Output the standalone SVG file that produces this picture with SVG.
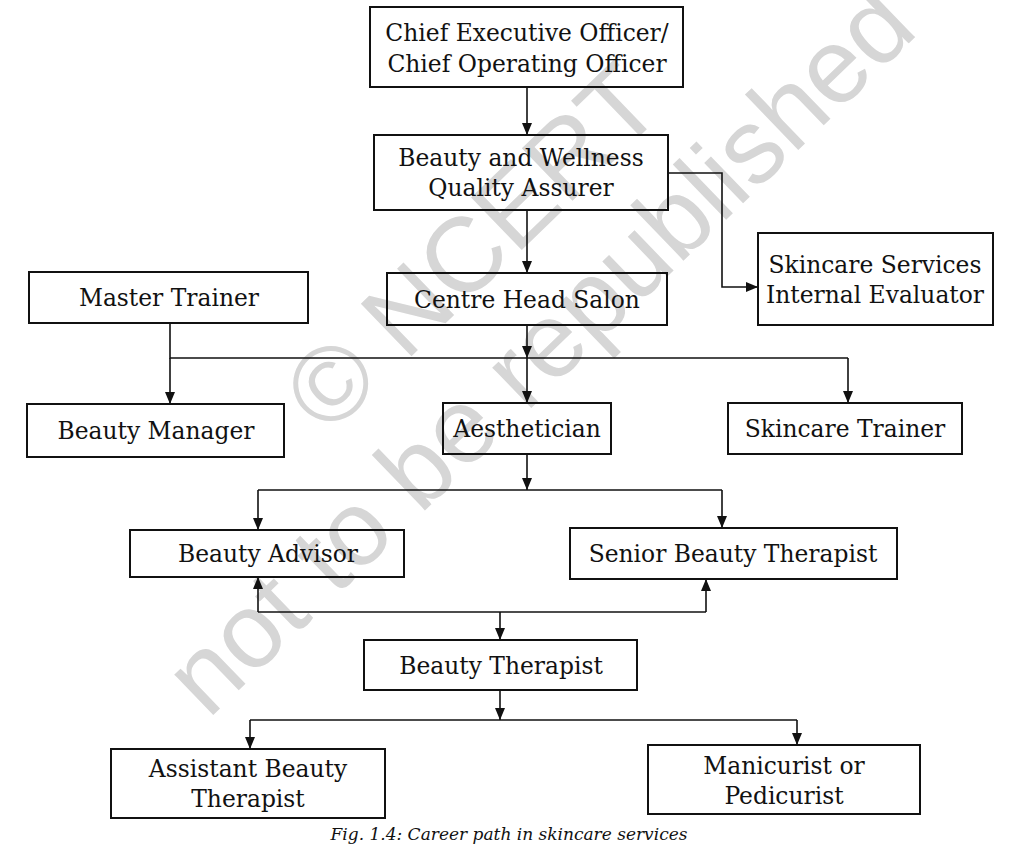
<svg xmlns="http://www.w3.org/2000/svg" width="1024" height="851" viewBox="0 0 1024 851">
<defs>
<style>
.box{fill:none;stroke:#111;stroke-width:2}
.lbl{font-family:"DejaVu Serif","Liberation Serif",serif;font-size:23.4px;fill:#111;text-anchor:middle}
.wire{fill:none;stroke:#111;stroke-width:1.6}
.wm{font-family:"Liberation Sans","DejaVu Sans",sans-serif;font-size:106px;fill:#d6d6d6}
.cap{font-family:"DejaVu Serif","Liberation Serif",serif;font-style:italic;font-size:17px;fill:#111;text-anchor:middle}
</style>
<marker id="ah" markerUnits="userSpaceOnUse" markerWidth="12" markerHeight="10" refX="12" refY="5" orient="auto">
<path d="M0,0 L12,5 L0,10 z" fill="#111"/>
</marker>
</defs>
<rect width="1024" height="851" fill="#fff"/>
<g id="watermark">
<text class="wm" transform="translate(328,437) rotate(-44)">© NCERT</text>
<text class="wm" transform="translate(208,720) rotate(-44)">not to be republished</text>
</g>
<g id="connectors">
<line class="wire" x1="527" y1="87" x2="527" y2="135" marker-end="url(#ah)"/>
<line class="wire" x1="527" y1="210" x2="527" y2="273" marker-end="url(#ah)"/>
<polyline class="wire" points="668,173 722,173 722,287 758,287" marker-end="url(#ah)"/>
<line class="wire" x1="527" y1="325" x2="527" y2="358" marker-end="url(#ah)"/>
<polyline class="wire" points="170,323 170,358 848,358"/>
<line class="wire" x1="170" y1="358" x2="170" y2="404" marker-end="url(#ah)"/>
<line class="wire" x1="527" y1="358" x2="527" y2="403" marker-end="url(#ah)"/>
<line class="wire" x1="848" y1="358" x2="848" y2="403" marker-end="url(#ah)"/>
<line class="wire" x1="527" y1="454" x2="527" y2="490" marker-end="url(#ah)"/>
<line class="wire" x1="258" y1="490" x2="722" y2="490"/>
<line class="wire" x1="258" y1="490" x2="258" y2="530" marker-end="url(#ah)"/>
<line class="wire" x1="722" y1="490" x2="722" y2="528" marker-end="url(#ah)"/>
<line class="wire" x1="258" y1="612" x2="706" y2="612"/>
<line class="wire" x1="258" y1="612" x2="258" y2="577" marker-end="url(#ah)"/>
<line class="wire" x1="706" y1="612" x2="706" y2="579" marker-end="url(#ah)"/>
<line class="wire" x1="500" y1="612" x2="500" y2="640" marker-end="url(#ah)"/>
<line class="wire" x1="500" y1="690" x2="500" y2="720" marker-end="url(#ah)"/>
<line class="wire" x1="250" y1="720" x2="797" y2="720"/>
<line class="wire" x1="250" y1="720" x2="250" y2="749" marker-end="url(#ah)"/>
<line class="wire" x1="797" y1="720" x2="797" y2="745" marker-end="url(#ah)"/>
</g>
<g id="ceo">
<rect class="box" x="370" y="7" width="313" height="80"/>
<text class="lbl" x="527" y="41">Chief Executive Officer/</text>
<text class="lbl" x="527" y="72">Chief Operating Officer</text>
</g>
<g id="bwqa">
<rect class="box" x="374" y="135" width="294" height="75"/>
<text class="lbl" x="521" y="166">Beauty and Wellness</text>
<text class="lbl" x="521" y="196">Quality Assurer</text>
</g>
<g id="ssie">
<rect class="box" x="758" y="233" width="235" height="92"/>
<text class="lbl" x="875" y="273">Skincare Services</text>
<text class="lbl" x="875" y="303">Internal Evaluator</text>
</g>
<g id="master">
<rect class="box" x="29" y="272" width="279" height="51"/>
<text class="lbl" x="169" y="306">Master Trainer</text>
</g>
<g id="centre">
<rect class="box" x="387" y="273" width="280" height="52"/>
<text class="lbl" x="527" y="308">Centre Head Salon</text>
</g>
<g id="manager">
<rect class="box" x="27" y="404" width="257" height="53"/>
<text class="lbl" x="156" y="439">Beauty Manager</text>
</g>
<g id="aesth">
<rect class="box" x="443" y="403" width="168" height="51"/>
<text class="lbl" x="527" y="437">Aesthetician</text>
</g>
<g id="sktrainer">
<rect class="box" x="728" y="403" width="234" height="51"/>
<text class="lbl" x="845" y="437">Skincare Trainer</text>
</g>
<g id="advisor">
<rect class="box" x="130" y="530" width="274" height="47"/>
<text class="lbl" x="268" y="562">Beauty Advisor</text>
</g>
<g id="senior">
<rect class="box" x="570" y="528" width="327" height="51"/>
<text class="lbl" x="733" y="562">Senior Beauty Therapist</text>
</g>
<g id="therapist">
<rect class="box" x="364" y="640" width="273" height="50"/>
<text class="lbl" x="501" y="674">Beauty Therapist</text>
</g>
<g id="assistant">
<rect class="box" x="111" y="749" width="274" height="69"/>
<text class="lbl" x="248" y="777">Assistant Beauty</text>
<text class="lbl" x="248" y="807">Therapist</text>
</g>
<g id="manicurist">
<rect class="box" x="648" y="745" width="272" height="69"/>
<text class="lbl" x="784" y="774">Manicurist or</text>
<text class="lbl" x="784" y="804">Pedicurist</text>
</g>
<text class="cap" x="509" y="840">Fig. 1.4: Career path in skincare services</text>
</svg>
